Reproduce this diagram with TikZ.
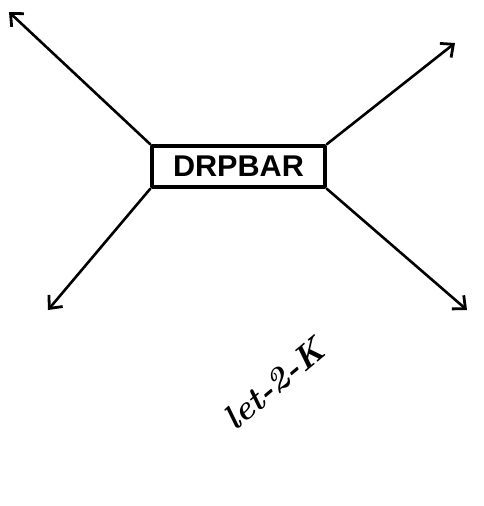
\documentclass[tikz,border=0pt]{standalone}
\usepackage{fontspec}
\newfontfamily\boxfont{Liberation Sans}
\usetikzlibrary{arrows.meta}
\tikzset{
  pen/.style={line width=2.6pt, line cap=round, line join=round},
  arr/.style={pen, -{Straight Barb[length=10pt, width=18pt, line width=2.8pt]}},
  labelbox/.style={draw, pen, line width=3.4pt, minimum width=173pt, minimum height=41pt, inner sep=0pt,
    font=\boxfont\bfseries\fontsize{30}{30}\selectfont}
}
\begin{document}
\begin{tikzpicture}[x=1pt,y=-1pt]
\useasboundingbox (0,0) rectangle (484,506);
\node[labelbox] (box) at (238.5,166.5) {\scalebox{1.02}[1.0]{DRPBAR}};
\coordinate (tl) at (9,12);
\coordinate (tr) at (455,43);
\coordinate (bl) at (48,310);
\coordinate (br) at (467,310);
\draw[arr] (box.north west) -- (tl);
\draw[arr] (box.north east) -- (tr);
\draw[arr] (box.south west) -- (bl);
\draw[arr] (box.south east) -- (br);
\node[rotate=40, font=\bfseries\itshape\fontsize{34}{34}\selectfont] (sig) at (274,384) {let-2-K};
\end{tikzpicture}
\end{document}
